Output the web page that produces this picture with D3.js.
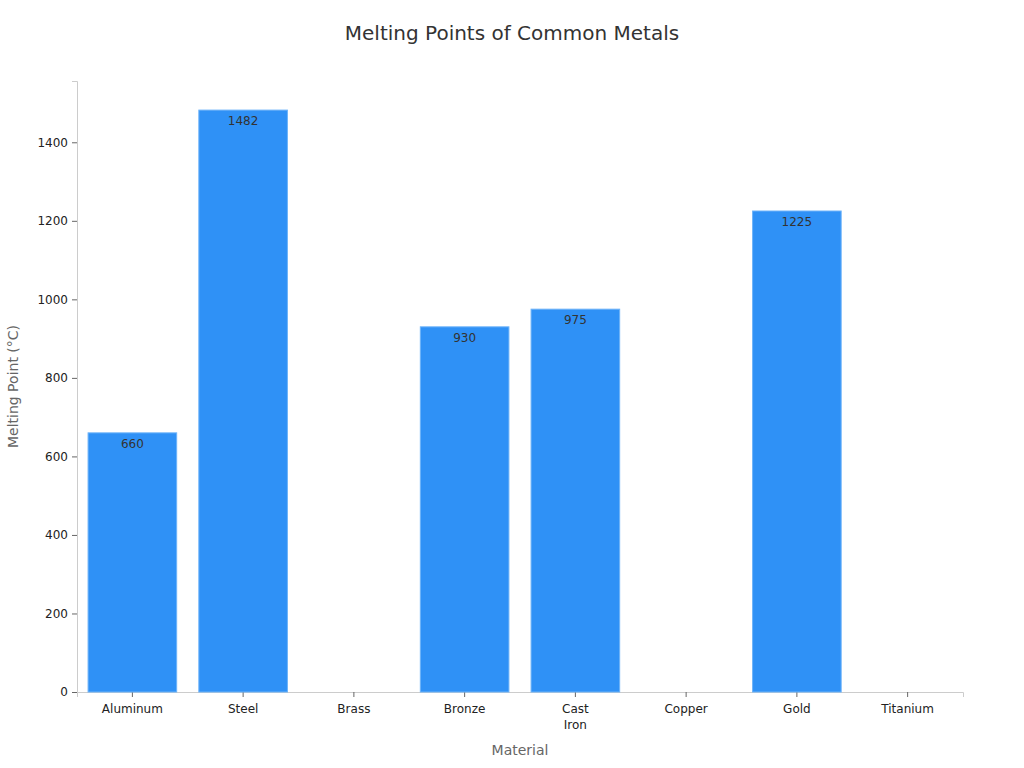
<!DOCTYPE html>
<html>
<head>
<meta charset="utf-8">
<script src="https://cdn.jsdelivr.net/npm/d3@7"></script>
<style>
  body { margin: 0; background: #fff; font-family: "DejaVu Sans", sans-serif; }
  .axis path, .axis line { stroke: #ccc; }
  .axis .tick line { stroke: #666; }
  .axis text { fill: #222; font-size: 12px; font-family: "DejaVu Sans", sans-serif; }
</style>
</head>
<body>
<div id="chart"></div>
<script>
// Chart data
const materials = ['Aluminum', 'Steel', 'Brass', 'Bronze', 'Cast Iron', 'Copper', 'Gold', 'Titanium'];
const meltingPoints = [660, 1482, null, 930, 975, null, 1225, null];
const yTicks = [0, 200, 400, 600, 800, 1000, 1200, 1400];

const W = 1024, H = 768;
const margin = { top: 81, right: 61, bottom: 76, left: 77 };
const width = W - margin.left - margin.right;
const height = H - margin.top - margin.bottom;

const data = materials.map((m, i) => ({ name: m, value: meltingPoints[i] }));

const svg = d3.select('#chart')
    .append('svg')
    .attr('width', W)
    .attr('height', H);

// Title
svg.append('text')
    .attr('x', 512)
    .attr('y', 40)
    .attr('text-anchor', 'middle')
    .attr('fill', '#333')
    .style('font-size', '20px')
    .text('Melting Points of Common Metals');

const g = svg.append('g')
    .attr('transform', `translate(${margin.left},${margin.top})`);

// Scales
const xScale = d3.scaleBand()
    .domain(materials)
    .range([0, width])
    .paddingInner(0.2)
    .paddingOuter(0.1);

const yScale = d3.scaleLinear()
    .domain([0, d3.max(meltingPoints) * 1.05])
    .range([height, 0]);

// Axes
g.append('g')
    .attr('class', 'axis')
    .call(d3.axisLeft(yScale).tickValues(yTicks).tickFormat(d3.format('d'))
        .tickSizeOuter(0).tickSize(5).tickPadding(4));

const xAxis = g.append('g')
    .attr('class', 'axis')
    .attr('transform', `translate(0,${height})`)
    .call(d3.axisBottom(xScale).tickSizeOuter(0).tickSize(5).tickPadding(7));

// wrap "Cast Iron" onto two lines
xAxis.selectAll('.tick text').each(function(d) {
    const words = d.split(' ');
    if (words.length < 2) return;
    const t = d3.select(this).text(null);
    words.forEach((w, i) => {
        t.append('tspan')
            .attr('x', 0)
            .attr('dy', i === 0 ? '0.71em' : '1.35em')
            .text(w);
    });
    t.attr('dy', null);
});

// Bars
const present = data.filter(d => d.value != null);

g.selectAll('.bar')
    .data(present)
    .enter()
    .append('rect')
    .attr('class', 'bar')
    .attr('x', d => xScale(d.name))
    .attr('y', d => yScale(d.value))
    .attr('width', xScale.bandwidth())
    .attr('height', d => height - yScale(d.value))
    .attr('fill', '#2f91f6')
    .attr('stroke', '#6db3f9')
    .attr('stroke-width', 1);

// Value labels
g.selectAll('.val')
    .data(present)
    .enter()
    .append('text')
    .attr('class', 'val')
    .attr('x', d => xScale(d.name) + xScale.bandwidth() / 2)
    .attr('y', d => yScale(d.value) + 15)
    .attr('text-anchor', 'middle')
    .attr('fill', '#333')
    .style('font-size', '12px')
    .text(d => d.value);

// Axis labels
svg.append('text')
    .attr('x', margin.left + width / 2)
    .attr('y', 755)
    .attr('text-anchor', 'middle')
    .attr('fill', '#666')
    .style('font-size', '14px')
    .text('Material');

svg.append('text')
    .attr('transform', `translate(18,${margin.top + height / 2}) rotate(-90)`)
    .attr('text-anchor', 'middle')
    .attr('fill', '#666')
    .style('font-size', '14px')
    .text('Melting Point (°C)');
</script>
</body>
</html>
